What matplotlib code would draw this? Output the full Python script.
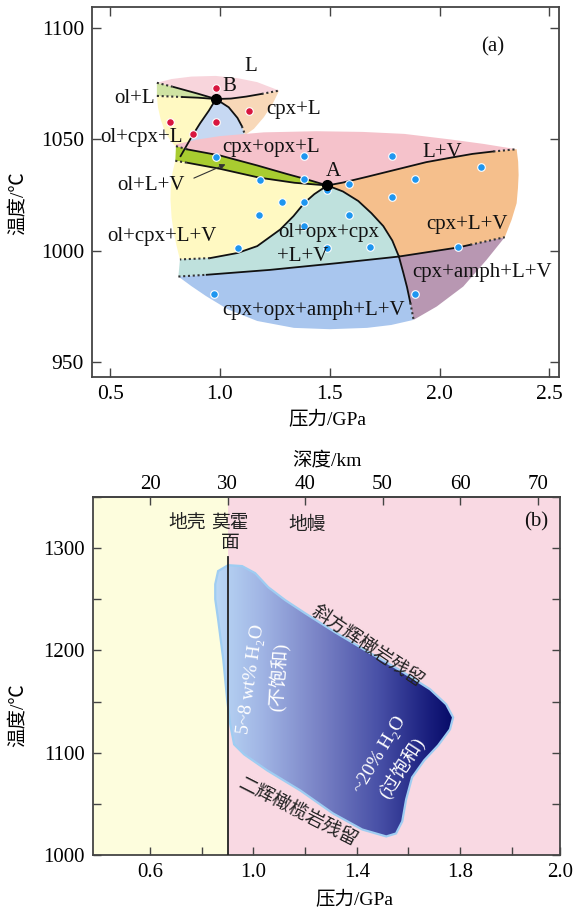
import numpy as np
import matplotlib
matplotlib.use('Agg')
import matplotlib.pyplot as plt
from matplotlib.patches import Polygon
from matplotlib.colors import LinearSegmentedColormap

plt.rcParams['font.family'] = ['Liberation Serif', 'Noto Sans CJK SC', 'DejaVu Sans']
plt.rcParams['axes.unicode_minus'] = False

# ================= panel (a) data (pressure GPa, temperature C) =================
A_pt = (1.489, 1029.3)
B_pt = (0.982, 1068.2)

ol_L_upper = [(0.713, 1075.5), (0.79, 1073.6), (0.90, 1070.6), (0.982, 1068.2)]
ol_L_lower = [(0.713, 1069.6), (0.83, 1069.1), (0.90, 1068.8), (0.982, 1068.2)]
L_cpx_line = [(0.982, 1068.2), (1.05, 1068.4), (1.12, 1069.3), (1.19, 1070.5), (1.27, 1072.0)]
B_left = [(0.982, 1068.2), (0.95, 1063.0), (0.91, 1057.3), (0.872, 1051.3), (0.821, 1042.5)]
B_right = [(0.982, 1068.2), (1.04, 1064.5), (1.08, 1059.7), (1.10, 1056.0), (1.115, 1052.0)]
L_top = [(0.713, 1075.5), (0.78, 1077.2), (0.87, 1078.3), (0.98, 1078.6), (1.08, 1077.6),
         (1.17, 1075.8), (1.27, 1072.0)]
cpxL_right = [(1.27, 1072.0), (1.24, 1066.0), (1.20, 1060.0), (1.155, 1054.8), (1.115, 1052.0)]
yellow_up_left = [(0.713, 1069.6), (0.718, 1064.5), (0.731, 1058.8), (0.75, 1053.5),
                  (0.773, 1049.8), (0.796, 1047.1)]
blue_up_bottom = [(0.835, 1045.5), (0.95, 1048.0), (1.05, 1050.0), (1.115, 1052.0)]

UG = [(0.80, 1047.0), (0.853, 1045.5), (1.0, 1042.8), (1.17, 1038.3), (1.30, 1034.6),
      (1.40, 1031.9), (1.489, 1029.3)]
LG = [(0.797, 1040.4), (0.853, 1039.5), (1.0, 1036.8), (1.18, 1032.8), (1.34, 1030.5),
      (1.489, 1029.3)]
LV = [(1.489, 1029.3), (1.56, 1030.6), (1.67, 1033.2), (1.805, 1036.5), (1.94, 1039.8),
      (2.04, 1041.6), (2.15, 1043.5), (2.245, 1044.6), (2.351, 1045.6)]
ADL = [(1.489, 1029.3), (1.43, 1025.4), (1.385, 1021.5), (1.335, 1015.5), (1.275, 1009.5),
       (1.17, 1002.0), (1.08, 998.9), (0.955, 996.6), (0.818, 996.0)]
ADR_up = [(1.489, 1029.3), (1.56, 1026.6), (1.63, 1022.3), (1.69, 1016.8), (1.744, 1011.0),
          (1.785, 1004.5), (1.815, 997.3)]
ADR_low = [(1.815, 997.3), (1.835, 990.0), (1.852, 983.5), (1.867, 976.5), (1.882, 968.8)]
H_left = [(0.811, 988.3), (0.94, 989.1), (1.228, 991.3), (1.532, 994.3), (1.815, 997.3)]
H_right = [(1.815, 997.3), (2.085, 1001.4), (2.14, 1002.6), (2.297, 1006.0)]
RO = [(2.351, 1045.6), (2.358, 1040.0), (2.36, 1034.0), (2.357, 1028.0), (2.351, 1021.3),
      (2.328, 1013.8), (2.297, 1006.0)]
PL = [(2.297, 1006.0), (2.214, 995.8), (2.108, 983.8), (1.987, 974.8), (1.882, 968.8)]
BB = [(1.882, 968.8), (1.78, 966.5), (1.67, 965.2), (1.50, 964.6), (1.337, 965.2),
      (1.17, 968.3), (1.037, 973.5), (0.937, 979.5), (0.87, 984.0), (0.811, 988.3)]
pink_top = [(0.80, 1047.8), (0.90, 1050.0), (1.00, 1051.5), (1.20, 1053.2), (1.44, 1053.7),
            (1.65, 1053.4), (1.84, 1052.5), (2.05, 1050.0), (2.2, 1048.0), (2.351, 1045.6)]
YL = [(0.797, 1040.4), (0.784, 1035.0), (0.776, 1028.0), (0.775, 1023.0), (0.78, 1015.0),
      (0.79, 1008.0), (0.803, 1002.0), (0.818, 996.0)]

red_P = [0.982, 0.773, 0.982, 0.879, 1.131]
red_T = [1073.3, 1058.0, 1058.0, 1052.5, 1062.8]
blue_P = [0.983, 1.384, 1.784, 1.184, 1.385, 1.488, 1.587, 1.887, 2.19, 1.282, 1.385, 1.783,
          1.18, 1.587, 1.385, 1.082, 1.487, 1.685, 2.086, 0.975, 1.887]
blue_T = [1042.3, 1042.4, 1042.5, 1031.7, 1032.0, 1027.3, 1030.0, 1032.2, 1037.5, 1021.9,
          1021.9, 1024.2, 1016.2, 1016.2, 1011.1, 1001.1, 1001.3, 1001.6, 1001.6, 980.5, 980.5]

labels_a = ['L', 'B', 'ol+L', 'cpx+L', 'ol+cpx+L', 'cpx+opx+L', 'L+V', 'A', 'ol+L+V',
            'ol+cpx+L+V', 'ol+opx+cpx', '+L+V', 'cpx+L+V', 'cpx+amph+L+V',
            'cpx+opx+amph+L+V', '(a)']
labels_a_P = [1.142, 1.045, 0.612, 1.337, 0.645, 1.234, 2.013, 1.518, 0.687, 0.737, 1.496,
              1.376, 2.124, 2.192, 1.428, 2.24]
labels_a_T = [1082.8, 1073.9, 1068.4, 1063.4, 1051.0, 1046.3, 1044.2, 1035.6, 1029.1, 1006.3,
              1008.0, 997.5, 1011.8, 990.3, 973.1, 1091.8]

xticks_a = [0.5, 1.0, 1.5, 2.0, 2.5]
yticks_a = [950, 1000, 1050, 1100]

# ================= panel (b) data =================
shape_P = [0.852, 0.863, 0.902, 0.956, 1.0065, 1.057, 1.123, 1.200, 1.316, 1.440, 1.568, 1.684,
           1.746, 1.773, 1.761, 1.715, 1.661, 1.614, 1.591, 1.576, 1.552, 1.514, 1.421, 1.308,
           1.181, 1.053, 0.964, 0.925, 0.910, 0.898, 0.883, 0.863, 0.852]
shape_T = [1264.7, 1277.5, 1283.3, 1282.4, 1275.5, 1261.8, 1249.1, 1236.3, 1217.7, 1199.1,
           1180.5, 1161.9, 1147.3, 1134.5, 1122.8, 1107.1, 1092.5, 1075.8, 1054.3, 1032.8,
           1021.0, 1018.1, 1024.9, 1040.6, 1063.1, 1082.7, 1098.3, 1108.1, 1127.7, 1152.2,
           1191.3, 1230.5, 1250.0]
moho_P = 0.9
moho_T_top = 1291
xticks_b = [0.6, 0.8, 1.0, 1.2, 1.4, 1.6, 1.8, 2.0, 2.187]
xticklabels_b = ['0.6', '', '1.0', '', '1.4', '', '1.8', '', '2.0']
yticks_b = [1000, 1050, 1100, 1150, 1200, 1250, 1300, 1350]
yticklabels_b = ['1000', '', '1100', '', '1200', '', '1300', '']
depth_ticks = [20, 30, 40, 50, 60, 70]

# ================= figure =================
fig = plt.figure(figsize=(5.75, 9.14), dpi=100)
axa = fig.add_axes([0.1605, 0.5878, 0.8117, 0.4045])
axb = fig.add_axes([0.1623, 0.0646, 0.8117, 0.3917])


def cat(*parts):
    pts = []
    for p in parts:
        pts.extend(p)
    return np.array(pts)


def rev(c):
    return list(reversed(c))


def fill(ax, pts, color, z=1):
    ax.add_patch(Polygon(pts, closed=True, facecolor=color, edgecolor='none', zorder=z))


# upper small diagram
fill(axa, cat(L_top, rev(L_cpx_line), rev(ol_L_upper)), '#f8d5dc')
fill(axa, cat(ol_L_upper, rev(ol_L_lower)), '#cfe3a3')
fill(axa, cat(ol_L_lower, B_left[1:], [(0.80, 1047.0)], rev(yellow_up_left)), '#fff9c2')
fill(axa, cat(B_left, blue_up_bottom, rev(B_right)), '#c6d8f2')
fill(axa, cat(L_cpx_line, cpxL_right[1:], rev(B_right)[1:]), '#f8d8b8')
# lower diagram
fill(axa, cat(pink_top, rev(LV)[1:], rev(UG)), '#f5c2cb', 2)
fill(axa, cat(UG, rev(LG)), '#a8cc30', 2)
fill(axa, cat(LG, ADL[1:], rev(YL)[1:]), '#fff9c2', 2)
fill(axa, cat(ADL, H_left, rev(ADR_up)[1:]), '#bfe1dd', 2)
fill(axa, cat(LV, RO[1:], rev(H_right)[1:], rev(ADR_up)[1:]), '#f5bf8c', 2)
fill(axa, cat(H_left, ADR_low[1:], BB[1:]), '#a9c6ee', 2)
fill(axa, cat(H_right, PL[1:], rev(ADR_low)[1:]), '#b897b2', 2)

dot_style = dict(color='#333333', lw=1.5, linestyle=(0, (1, 1.3)), zorder=4)
solid_style = dict(color='#111111', lw=1.3, zorder=4)


def draw(ax, c, head=0, tail=0):
    a = np.array(c)
    n = len(a)
    if head:
        ax.plot(a[:head + 1, 0], a[:head + 1, 1], **dot_style)
    ax.plot(a[head:n - tail, 0], a[head:n - tail, 1], **solid_style)
    if tail:
        ax.plot(a[n - tail - 1:, 0], a[n - tail - 1:, 1], **dot_style)


draw(axa, ol_L_upper, head=1)
draw(axa, ol_L_lower, head=1)
draw(axa, L_cpx_line, tail=1)
draw(axa, B_left)
draw(axa, B_right, tail=1)
draw(axa, UG, head=1)
draw(axa, LG, head=1)
draw(axa, LV, tail=1)
draw(axa, ADL, tail=1)
draw(axa, ADR_up)
draw(axa, ADR_low, tail=1)
draw(axa, H_left, head=1)
draw(axa, H_right, tail=1)

axa.plot(red_P, red_T, 'o', ms=5.5, color='#d8163f', mec='white', mew=0.8, zorder=5)
axa.plot(blue_P, blue_T, 'o', ms=5.5, color='#1e96f0', mec='white', mew=0.8, zorder=5)
axa.plot([A_pt[0], B_pt[0]], [A_pt[1], B_pt[1]], 'o', ms=7, color='black', zorder=6)

for s, p, t in zip(labels_a, labels_a_P, labels_a_T):
    axa.text(p, t, s, fontsize=15, ha='center', va='center', color='#111111', zorder=7)
axa.annotate('', xy=(1.037, 1039.3), xytext=(0.87, 1032.1),
             arrowprops=dict(arrowstyle='-|>', lw=0.8, color='#333333', mutation_scale=8),
             zorder=7)

axa.set_xlim(0.419, 2.544)
axa.set_ylim(943.2, 1109.6)
axa.set_xticks(xticks_a)
axa.set_xticklabels(['%.1f' % v for v in xticks_a])
axa.set_yticks(yticks_a)
axa.tick_params(direction='in', length=6.5, width=1.0, color='#444444', top=True,
                right=True, labelsize=15.5, pad=6)
for sp in axa.spines.values():
    sp.set_color('#444444')
    sp.set_linewidth(1.3)
axa.set_xlabel('压力/GPa', fontsize=14)
axa.set_ylabel('温度/℃', fontsize=14)
axa.xaxis.set_label_coords(0.504, -0.093)
axa.yaxis.set_label_coords(-0.14, 0.47)

# ================= panel (b) =================
axb.axvspan(0.38, moho_P, color='#fdfddd', zorder=0, lw=0)
axb.axvspan(moho_P, 2.187, color='#f9d9e3', zorder=0, lw=0)

poly = Polygon(np.column_stack([shape_P, shape_T]), closed=True, facecolor='none',
               edgecolor='#9fcdf2', lw=1.6, zorder=3)
axb.add_patch(poly)
grad_cmap = LinearSegmentedColormap.from_list(
    'g', [(0.0, '#bad8f6'), (0.2, '#a0b4e4'), (0.45, '#7780c4'), (0.7, '#464ea5'),
          (0.9, '#191e7d'), (1.0, '#070b68')])
grad = np.linspace(0, 1, 256).reshape(1, -1)
im = axb.imshow(grad, extent=[min(shape_P), max(shape_P), min(shape_T), max(shape_T)],
                aspect='auto', cmap=grad_cmap, zorder=2, interpolation='bilinear')
im.set_clip_path(poly)
axb.plot([moho_P, moho_P], [1000, moho_T_top], color='#222222', lw=1.3, zorder=4)

cjk = ['Noto Sans CJK SC', 'DejaVu Sans']
axb.text(0.742, 1325, '地壳', fontsize=13.5, family=cjk, ha='center', va='center', color='#222')
axb.text(0.91, 1325, '莫霍', fontsize=13.5, family=cjk, ha='center', va='center', color='#222')
axb.text(0.91, 1305.5, '面', fontsize=13.5, family=cjk, ha='center', va='center', color='#222')
axb.text(1.207, 1323.4, '地幔', fontsize=13.5, family=cjk, ha='center', va='center', color='#222')
axb.text(2.094, 1325.3, '(b)', fontsize=15, ha='center', va='center', color='#111')
axb.text(1.444, 1204, '斜方辉橄岩残留', fontsize=13.5, family=cjk, rotation=-34,
         ha='center', va='center', rotation_mode='anchor', color='#222', zorder=6)
axb.text(1.173, 1041.6, '二辉橄榄岩残留', fontsize=13.5, family=cjk, rotation=-27,
         ha='center', va='center', rotation_mode='anchor', color='#222', zorder=6)
axb.text(0.991, 1171.7, '5~8 wt% H₂O', fontsize=14, rotation=82, ha='center', va='center',
         rotation_mode='anchor', color='white', zorder=6)
axb.text(1.099, 1173.7, '(不饱和)', fontsize=13.5, rotation=86, ha='center', va='center',
         rotation_mode='anchor', color='white', zorder=6)
axb.text(1.49, 1098.3, '~20% H₂O', fontsize=14, rotation=59, ha='center', va='center',
         rotation_mode='anchor', color='white', zorder=6)
axb.text(1.572, 1085.6, '(过饱和)', fontsize=13.5, rotation=57, ha='center', va='center',
         rotation_mode='anchor', color='white', zorder=6)

axb.set_xlim(0.38, 2.187)
axb.set_ylim(1000, 1350)
axb.set_xticks(xticks_b)
axb.set_xticklabels(xticklabels_b)
axb.set_yticks(yticks_b)
axb.set_yticklabels(yticklabels_b)
axb.tick_params(direction='in', length=6, width=1.0, color='#444444', right=True,
                labelsize=15, pad=6)
for sp in axb.spines.values():
    sp.set_color('#444444')
    sp.set_linewidth(1.3)
axb.set_xlabel('压力/GPa', fontsize=14)
axb.set_ylabel('温度/℃', fontsize=14)
axb.xaxis.set_label_coords(0.56, -0.10)
axb.yaxis.set_label_coords(-0.142, 0.39)

sec = axb.secondary_xaxis('top', functions=(lambda p: p / 0.03, lambda d: d * 0.03))
sec.set_xticks(depth_ticks)
sec.tick_params(direction='in', length=6, width=1.0, color='#444444', labelsize=15, pad=2)
sec.spines['top'].set_color('#444444')
sec.spines['top'].set_linewidth(1.3)
sec.set_xlabel('深度/km', fontsize=14, labelpad=7)

fig.savefig('out.png', dpi=100)
